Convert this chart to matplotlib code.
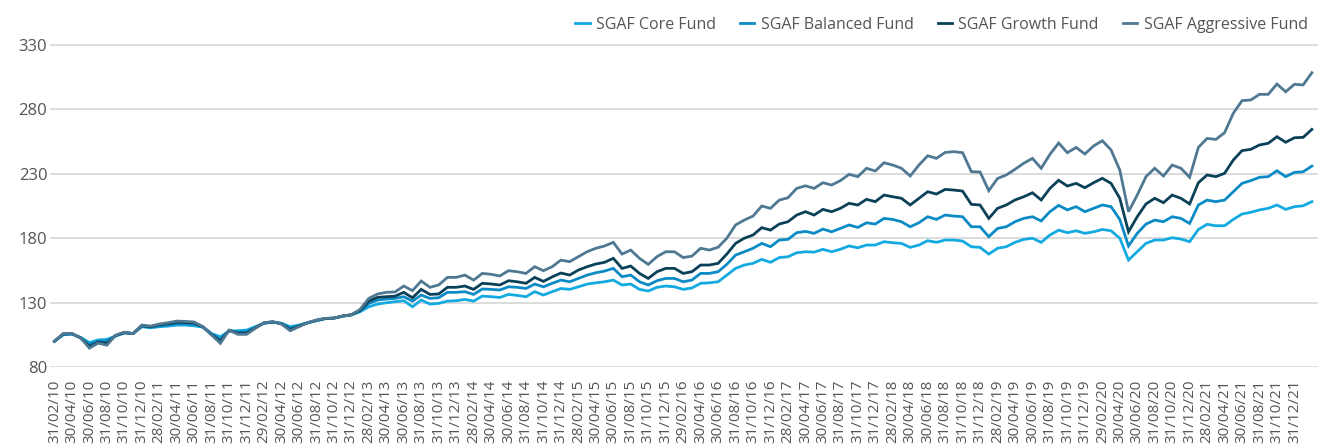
import numpy as np
import pandas as pd
import matplotlib
matplotlib.use("Agg")
import matplotlib.pyplot as plt

# month-end index values, Feb 2010 -> Feb 2022 (145 points)
core = [100, 105, 105.5, 103, 99, 101, 101.5, 104, 106.5, 106,
        111.3, 110.5, 111.3, 111.8, 112.6, 112.6, 112, 111, 106, 103.5,
        108, 108.2, 108.7, 111.3, 114, 114.8, 114, 111.3, 112.6, 114.4,
        116, 117.5, 118, 119.5, 120.5, 122.9, 126.8, 128.9, 129.9, 130.7,
        131.5, 126.8, 132, 128.9, 129.4, 131.2, 131.5, 132.5, 131.2, 135.1,
        134.6, 134, 136.4, 135.6, 134.6, 138.5, 135.9, 138.5, 141, 140.3,
        142.3, 144.4, 145.4, 146.2, 147.5, 143.7, 144.4, 140.3, 139, 141.9,
        142.9, 142.3, 140.3, 141.4, 145, 145.4, 146.2, 151.4, 156.6, 159.2,
        160.5, 163.6, 161.3, 165, 165.6, 168.7, 169.5, 169.2, 171.4, 169.5,
        171.4, 174, 172.6, 174.7, 174.7, 177.3, 176.5, 176, 172.9, 174.7,
        178.1, 176.8, 178.6, 178.6, 177.8, 173.4, 172.9, 167.7, 172.2, 173.4,
        176.8, 179.1, 180, 176.8, 182.5, 186.3, 184.3, 185.8, 183.8, 185,
        186.8, 185.8, 180, 163.1, 169.5, 176, 178.6, 178.6, 180.4, 179.4,
        177.3, 186.8, 190.8, 189.7, 189.7, 194.6, 198.8, 200.1, 202, 203.2,
        205.8, 202.4, 204.5, 205.2, 208.4]

balanced = [100, 105.3, 105.7, 102.8, 97.5, 100.2, 100, 104.3, 106.6, 106,
            111.7, 110.9, 112, 112.7, 113.7, 113.6, 113.1, 111.1, 105.6, 101.7,
            108.2, 107.2, 107.5, 110.8, 114.1, 114.9, 113.8, 110.2, 112.2, 114.4,
            116.1, 117.6, 118, 119.5, 120.5, 123.5, 129.4, 132, 132.8, 133.3,
            134.6, 131.2, 135.9, 133.3, 133.8, 138, 138, 138.5, 136.4, 140.6,
            140.3, 139.8, 142.3, 141.9, 141, 144.4, 142.3, 145, 147.5, 146.2,
            148.8, 151.4, 153.2, 154.5, 156.6, 150.1, 151.4, 146.2, 143.7, 147,
            148.8, 148.8, 146.2, 147.5, 152.7, 152.7, 154, 159.7, 166.9, 169.5,
            172.2, 176, 173.4, 178.6, 179.1, 184.3, 185.3, 183.8, 187.1, 185,
            187.6, 190.3, 188.4, 192, 191, 195.4, 194.6, 192.8, 188.9, 192,
            196.7, 194.6, 198, 197.2, 196.7, 188.9, 188.9, 181.2, 187.6, 188.9,
            192.8, 195.4, 196.7, 193.4, 200.6, 205.5, 202, 204.5, 200.6, 203.2,
            205.8, 204.5, 194.6, 174, 183.8, 191, 194.1, 192.8, 196.7, 195.4,
            191.5, 205.8, 209.6, 208.4, 209.6, 216.1, 222.6, 224.7, 227.3, 227.8,
            232.4, 227.8, 231.1, 231.6, 236]

growth = [100, 105.7, 106, 102.6, 96, 99.3, 98.4, 104.5, 106.8, 106,
          112.2, 111.4, 112.8, 113.6, 114.8, 114.6, 114.2, 111.2, 105.2, 100,
          108.5, 106.3, 106.4, 110.4, 114.3, 115.1, 113.6, 109.1, 111.7, 114.4,
          116.3, 117.7, 118, 119.6, 120.6, 124, 131.2, 134.1, 134.6, 135,
          138, 133.8, 140.3, 136.4, 136.7, 141.9, 141.9, 142.9, 140.3, 145,
          144.5, 143.7, 147, 146.2, 145, 149.6, 146.5, 150, 153, 151.4,
          155.3, 157.9, 160, 161.3, 164.4, 156.6, 158.4, 152.7, 148.8, 154,
          156.6, 156.6, 152.7, 154, 159.2, 159.2, 160.5, 167.7, 176, 180,
          182.5, 188.2, 186.3, 191, 192.8, 198, 200.6, 198, 202.4, 200.6,
          203.2, 207.1, 205.8, 210.2, 208.4, 213.5, 212.2, 211, 205.8, 211,
          216.1, 214.3, 217.9, 217.4, 216.6, 206.3, 205.8, 195.4, 203.2, 205.8,
          209.7, 212.2, 215.3, 209.7, 218.7, 225, 220.5, 222.6, 219.2, 223.1,
          226.5, 222.6, 211, 185, 196.7, 206.6, 211, 207.6, 213.5, 211,
          206.6, 223.1, 229.1, 227.8, 230.4, 240.7, 248, 249, 252.4, 253.7,
          258.8, 254.5, 258, 258.3, 264.5]

aggressive = [100, 106, 106, 102.5, 94.7, 98.6, 97, 104.8, 107, 106,
              112.6, 111.8, 113.4, 114.4, 115.7, 115.4, 115, 111.3, 104.8, 98.4,
              108.7, 105.4, 105.4, 110, 114.4, 115.2, 113.4, 108.2, 111.3, 114.4,
              116.5, 117.8, 118, 119.6, 120.6, 124.8, 133.3, 136.7, 138, 138.3,
              142.9, 139.3, 146.8, 141.9, 143.7, 149.6, 149.6, 151.4, 147.5, 152.7,
              152, 150.7, 154.8, 154, 152.7, 157.9, 154.8, 157.9, 163, 161.8,
              165.7, 169.5, 172.2, 174, 176.8, 167.7, 170.8, 164.4, 159.7, 165.7,
              169.5, 169.5, 165, 166.1, 172.2, 170.8, 173, 180, 190.3, 194.1,
              197.2, 205, 203.2, 209.6, 211.4, 218.7, 220.7, 218.7, 223.1, 221.3,
              224.7, 229.6, 227.8, 234.3, 232.2, 238.6, 236.8, 234.3, 228.3, 236.8,
              244, 242, 246.6, 247.2, 246.4, 231.7, 231.4, 216.9, 226.4, 229.1,
              233.5, 238.2, 242, 234.3, 245.1, 253.9, 246.4, 250.5, 245.4, 251.6,
              255.7, 248.5, 233, 200.6, 213.5, 227.8, 234.3, 228.3, 236.8, 234.3,
              227.3, 250.5, 257.5, 256.7, 261.9, 277, 286.8, 287.3, 291.7, 291.7,
              299.7, 293.7, 299.5, 299, 308.5]

# tick labels every second month-end, Feb 2010 -> Dec 2021 (first one as printed in the source)
tick_dates = pd.date_range("2010-02-28", "2021-12-31", freq="2ME")
tick_labels = [d.strftime("%d/%m/%y") for d in tick_dates]
tick_labels[0] = "31/02/10"

series = [
    ("SGAF Core Fund", core, "#13a9e1"),
    ("SGAF Balanced Fund", balanced, "#0b8bc6"),
    ("SGAF Growth Fund", growth, "#0b4158"),
    ("SGAF Aggressive Fund", aggressive, "#4f7893"),
]

plt.rcParams['font.family'] = ['Open Sans', 'DejaVu Sans']

fig = plt.figure(figsize=(13.18, 4.46), dpi=100)
ax = fig.add_axes([0.038, 0.177, 0.962, 0.751])

x = np.arange(len(core))
for name, vals, col in series:
    ax.plot(x, vals, color=col, lw=2.0, label=name, solid_joinstyle='miter')

ax.set_ylim(80, 340)
ax.set_yticks([80, 130, 180, 230, 280, 330])
ax.set_xlim(-0.5, len(core) - 0.3)
ax.set_xticks(np.arange(0, 2 * len(tick_labels), 2))
ax.set_xticklabels(tick_labels, rotation=90, fontsize=11, color="#555555")
ax.grid(axis='y', color="#d9d9d9", lw=1.3)
ax.set_axisbelow(True)
for s in ax.spines.values():
    s.set_visible(False)
ax.tick_params(axis='x', length=0, pad=9)
ax.tick_params(axis='y', length=0, pad=2, labelsize=12, labelcolor="#555555")

fig.legend(loc='upper right', bbox_to_anchor=(1.003, 0.995), ncol=4, frameon=False,
           fontsize=11.5, handlelength=0.9, handletextpad=0.4, columnspacing=1.5,
           labelcolor="#555555")

fig.savefig("out.png", dpi=100)
